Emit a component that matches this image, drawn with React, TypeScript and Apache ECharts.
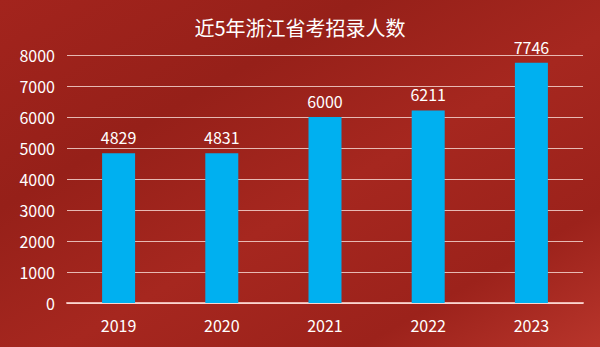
import React, { useEffect, useRef } from "react";
import * as echarts from "echarts";

const categories = ["2019", "2020", "2021", "2022", "2023"];
const values = [4829, 4831, 6000, 6211, 7746];
const titleText = "近5年浙江省考招录人数";

export default function App() {
  const ref = useRef<HTMLDivElement>(null);
  useEffect(() => {
    if (!ref.current) return;
    const chart = echarts.init(ref.current, undefined, { renderer: "svg" });
    const font = "'Noto Sans CJK SC', 'Noto Sans', sans-serif";
    chart.setOption({
      animation: false,
      backgroundColor: {
        type: "linear",
        x: 0,
        y: 0,
        x2: 1,
        y2: 1,
        colorStops: [
          { offset: 0, color: "#a3241d" },
          { offset: 0.3, color: "#962019" },
          { offset: 0.55, color: "#a6271f" },
          { offset: 0.8, color: "#9c221b" },
          { offset: 1, color: "#b8352b" },
        ],
      },
      title: {
        text: titleText,
        left: "center",
        top: 12,
        textStyle: { color: "#ffffff", fontSize: 20, fontWeight: "normal", fontFamily: font },
      },
      grid: { left: 67, right: 17, top: 55, bottom: 44, containLabel: false },
      xAxis: {
        type: "category",
        data: categories,
        axisTick: { show: false },
        axisLine: { lineStyle: { color: "rgba(255,220,215,0.8)", width: 2 } },
        axisLabel: { color: "#ffffff", fontSize: 16, margin: 14, fontFamily: font },
      },
      yAxis: {
        type: "value",
        min: 0,
        max: 8000,
        interval: 1000,
        axisLine: { show: false },
        axisTick: { show: false },
        axisLabel: {
          color: "#ffffff",
          fontSize: 16,
          margin: 12,
          fontFamily: font,
          formatter: (v: number) => String(v),
        },
        splitLine: { lineStyle: { color: "rgba(255,235,230,0.75)", width: 1 } },
      },
      series: [
        {
          type: "bar",
          data: values,
          barWidth: 33,
          itemStyle: { color: "#00b0f0" },
          label: {
            show: true,
            position: "top",
            distance: 8,
            color: "#ffffff",
            fontSize: 16,
            fontFamily: font,
          },
        },
      ],
    });
    return () => chart.dispose();
  }, []);
  return (
    <div
      ref={ref}
      style={{ position: "fixed", left: 0, top: 0, width: 600, height: 347 }}
    />
  );
}
